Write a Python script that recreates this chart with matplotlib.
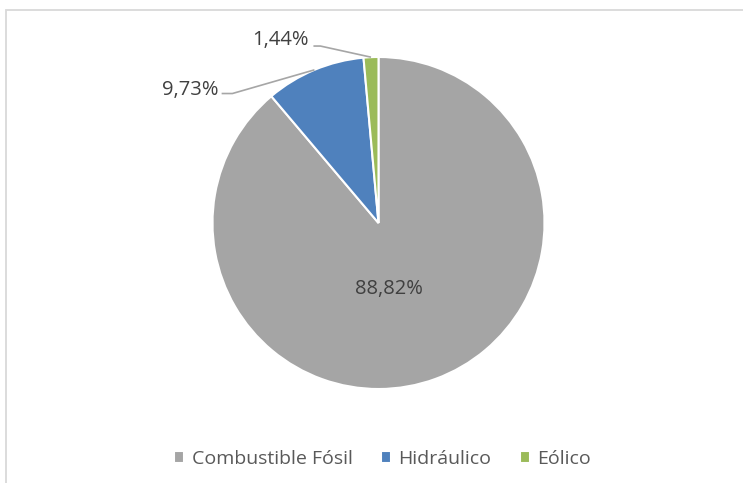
import numpy as np
import matplotlib.pyplot as plt
from matplotlib.patches import Rectangle

categories = ['Combustible Fósil', 'Hidráulico', 'Eólico']
values = [88.82, 9.73, 1.44]
colors = ['#a5a5a5', '#4f81bd', '#9bbb59']

# label layout in pie-radius units: text anchor, leader elbow (None = inside label)
label_text_pos = [(0.06, -0.40), (-0.965, 0.80), (-0.42, 1.10)]
label_align = ['center', 'right', 'right']
label_elbow = [None, (-0.88, 0.78), (-0.35, 1.066)]
label_start = [None, (-0.945, 0.78), (-0.392, 1.066)]

plt.rcParams['font.family'] = ['Open Sans', 'DejaVu Sans']

W, H = 743, 483
cx, cy, R = 378.5, 223, 166
fig = plt.figure(figsize=(W / 100, H / 100), dpi=100)
ax = fig.add_axes([(cx - R) / W, (H - cy - R) / H, 2 * R / W, 2 * R / H])

wedges, _ = ax.pie(values, colors=colors, startangle=90, counterclock=False,
                   radius=1, wedgeprops=dict(edgecolor='white', linewidth=1.5))
ax.set_xlim(-1, 1)
ax.set_ylim(-1, 1)
ax.axis('off')

for i, w in enumerate(wedges):
    txt = f"{values[i]:.2f}".replace('.', ',') + '%'
    tx, ty = label_text_pos[i]
    ax.text(tx, ty, txt, ha=label_align[i], va='center', fontsize=14.5,
            color='#404040', clip_on=False)
    if label_elbow[i] is not None:
        ang = np.deg2rad((w.theta1 + w.theta2) / 2)
        ex, ey = np.cos(ang), np.sin(ang)
        sx, sy = label_start[i]
        bx, by = label_elbow[i]
        ax.plot([sx, bx, ex], [sy, by, ey], color='#a6a6a6', lw=1.2,
                clip_on=False, solid_capstyle='butt')

fig.legend(wedges, categories, loc='center', bbox_to_anchor=(382.5 / W, 24 / H),
           ncol=3, frameon=False, fontsize=14, labelcolor='#595959',
           handlelength=0.52, handleheight=0.52, handletextpad=0.4,
           columnspacing=1.45)

fig.patches.append(Rectangle((5.5 / W, -0.2), 1.5, (H - 9.5) / H + 0.2,
                             transform=fig.transFigure, fill=False,
                             edgecolor='#d9d9d9', lw=1.3))

fig.savefig('out.png', dpi=100)
